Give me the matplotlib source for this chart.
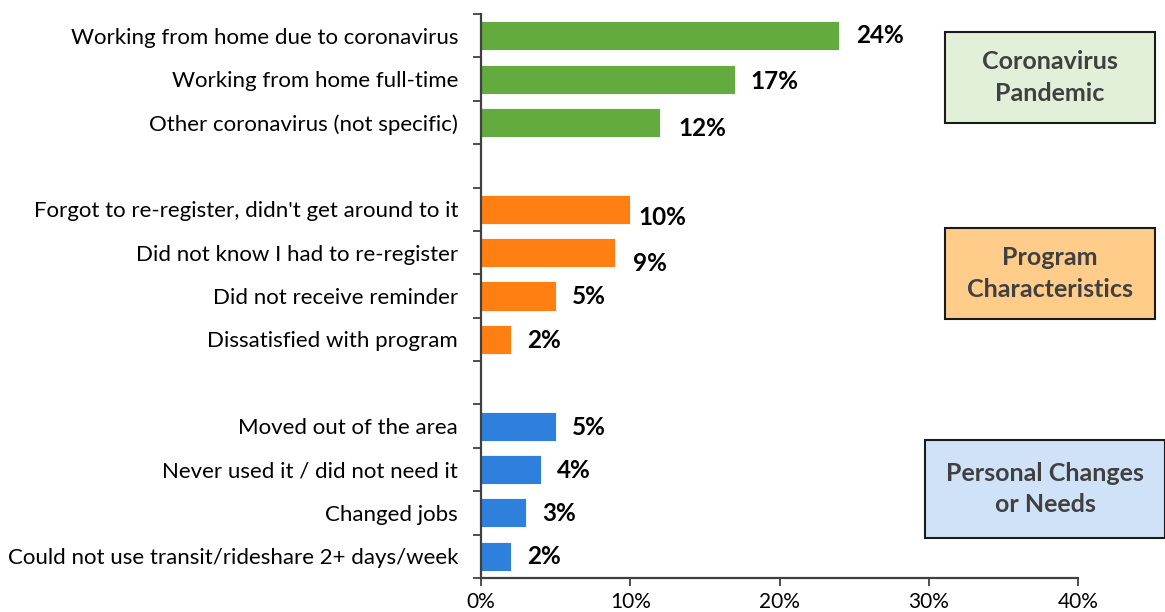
import matplotlib
matplotlib.use("Agg")
import matplotlib.pyplot as plt
from matplotlib.patches import Rectangle
from matplotlib.ticker import FuncFormatter, FixedLocator

plt.rcParams['font.family'] = ['Lato', 'DejaVu Sans']

# Reasons for not re-registering, grouped by theme (percent of respondents)
pandemic_labels = ["Working from home due to coronavirus",
                   "Working from home full-time",
                   "Other coronavirus (not specific)"]
pandemic_values = [24, 17, 12]

program_labels = ["Forgot to re-register, didn't get around to it",
                  "Did not know I had to re-register",
                  "Did not receive reminder",
                  "Dissatisfied with program"]
program_values = [10, 9, 5, 2]

personal_labels = ["Moved out of the area",
                   "Never used it / did not need it",
                   "Changed jobs",
                   "Could not use transit/rideshare 2+ days/week"]
personal_values = [5, 4, 3, 2]

group_titles = ["Coronavirus\nPandemic", "Program\nCharacteristics",
                "Personal Changes\nor Needs"]

x_ticks = [0, 10, 20, 30, 40]

# Styling
bar_colors = ["#63AA3F", "#FF7F13", "#2F80DD"]
box_fills = ["#E2F0D9", "#FFCC8A", "#CFE2F8"]
text_dark = "#404040"
# small per-label nudges (points) for the value labels
label_dx = [[12, 11, 13], [6, 13, 12, 12], [12, 12, 12, 12]]
label_dy = [[0, -2, -4.5], [-6, -7.5, -0.7, -0.7], [-0.7, -0.7, -0.7, 0]]
# group boxes in pixel extents (left, top, right, bottom)
box_px = [(945, 32, 1155, 123), (945, 228, 1155, 319), (925, 440, 1165, 538)]

W, H = 1165, 612
fig = plt.figure(figsize=(W / 100, H / 100), dpi=100)
ax = fig.add_axes([481 / W, 1 - 578 / H, (1078 - 481) / W, (578 - 14) / H])

groups = [(pandemic_labels, pandemic_values),
          (program_labels, program_values),
          (personal_labels, personal_values)]

n_slots = sum(len(g[0]) for g in groups) + len(groups) - 1
pos = n_slots - 1
centers, names = [], []
for gi, (labels, values) in enumerate(groups):
    for li, (lab, val) in enumerate(zip(labels, values)):
        ax.barh(pos, val, height=0.67, color=bar_colors[gi],
                edgecolor="white", linewidth=0.6, zorder=2)
        ax.annotate(f"{val}%", xy=(val, pos), xytext=(label_dx[gi][li], label_dy[gi][li]),
                    textcoords="offset points", ha="left", va="center",
                    fontsize=17.5, fontweight="bold", color="black")
        centers.append(pos)
        names.append(lab)
        pos -= 1
    pos -= 1

ax.set_xlim(0, 40)
ax.set_ylim(-0.5, n_slots - 0.5)

# tick marks at slot boundaries, labels at slot centers
ax.yaxis.set_major_locator(FixedLocator([i - 0.5 for i in range(n_slots + 1)]))
ax.yaxis.set_major_formatter(FuncFormatter(lambda v, p: ""))
ax.yaxis.set_minor_locator(FixedLocator(centers))
ax.set_yticklabels(names, minor=True)
ax.tick_params(axis="y", which="major", direction="out", length=6, width=1.3, color="#404040")
ax.tick_params(axis="y", which="minor", length=0, pad=16.5, labelsize=16, labelcolor="black")

ax.set_xticks(x_ticks)
ax.xaxis.set_major_formatter(FuncFormatter(lambda v, p: f"{v:.0f}%"))
ax.tick_params(axis="x", direction="out", length=6, width=1.3, color="#404040",
               labelsize=15, pad=4)

for side in ["top", "right"]:
    ax.spines[side].set_visible(False)
for side in ["left", "bottom"]:
    ax.spines[side].set_color("#404040")
    ax.spines[side].set_linewidth(1.6)

for (l, t, r, b), fill, title in zip(box_px, box_fills, group_titles):
    rect = Rectangle((l / W, 1 - b / H), (r - l) / W, (b - t) / H,
                     transform=fig.transFigure, facecolor=fill,
                     edgecolor="#1a1a1a", linewidth=1.5, clip_on=False)
    fig.add_artist(rect)
    fig.text((l + r) / 2 / W, 1 - (t + b) / 2 / H, title, ha="center", va="center",
             fontsize=18, fontweight="bold", color=text_dark, linespacing=1.43)

fig.savefig("out.png", dpi=100)
